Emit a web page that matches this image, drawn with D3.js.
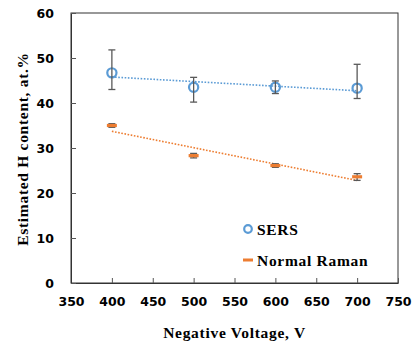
<!DOCTYPE html>
<html>
<head>
<meta charset="utf-8">
<script src="https://cdn.jsdelivr.net/npm/d3@7"></script>
<style>
  html, body { margin: 0; padding: 0; background: #fff; }
  svg { display: block; }
</style>
</head>
<body>
<svg id="chart" width="417" height="347"></svg>
<script>
// Applied negative bias voltage (V)
const voltages = [400, 500, 600, 700];

// SERS estimate of H content (at.%) with error bar limits
const sersValues = [46.7, 43.5, 43.5, 43.3];
const sersLow    = [43.0, 40.2, 42.1, 41.0];
const sersHigh   = [51.8, 45.7, 44.9, 48.6];

// Normal Raman estimate of H content (at.%) with error bar limits
const ramanValues = [35.0, 28.3, 26.1, 23.6];
const ramanLow    = [34.6, 27.8, 25.7, 22.8];
const ramanHigh   = [35.4, 28.8, 26.5, 24.3];

const xTicks = [350, 400, 450, 500, 550, 600, 650, 700, 750];
const yTicks = [0, 10, 20, 30, 40, 50, 60];

const seriesNames = ["SERS", "Normal Raman"];
const colors = { sers: "#5B9BD5", raman: "#ED7D31", err: "#595959" };

const serif = "'Liberation Serif', 'Times New Roman', serif";
const sans = "'DejaVu Sans', Verdana, sans-serif";

const svg = d3.select("#chart");
const m = { left: 71, right: 19, top: 13, bottom: 64 };
const W = 417, H = 347;

const x = d3.scaleLinear().domain([350, 750]).range([m.left, W - m.right]);
const y = d3.scaleLinear().domain([0, 60]).range([H - m.bottom, m.top]);

// plot frame
svg.append("rect")
  .attr("x", x(350)).attr("y", y(60))
  .attr("width", x(750) - x(350)).attr("height", y(0) - y(60))
  .attr("fill", "none").attr("stroke", "#333").attr("stroke-width", 1);

// axes with inward ticks
const xAxis = svg.append("g").attr("transform", `translate(0,${y(0)})`)
  .call(d3.axisBottom(x).tickValues(xTicks).tickSizeInner(-5).tickSizeOuter(0).tickPadding(14));
const yAxis = svg.append("g").attr("transform", `translate(${x(350)},0)`)
  .call(d3.axisLeft(y).tickValues(yTicks).tickSizeInner(-5).tickSizeOuter(0).tickPadding(17));
[xAxis, yAxis].forEach(g => {
  g.select(".domain").attr("stroke", "#333");
  g.selectAll(".tick line").attr("stroke", "#555");
  g.selectAll(".tick text")
    .attr("font-family", sans).attr("font-weight", "bold")
    .attr("font-size", 12.5).attr("fill", "#000");
});

// least-squares trend line
function fit(xs, ys) {
  const mx = d3.mean(xs), my = d3.mean(ys);
  const b = d3.sum(xs, (v, i) => (v - mx) * (ys[i] - my)) / d3.sum(xs, v => (v - mx) ** 2);
  return v => my + b * (v - mx);
}

function trend(values, color) {
  const f = fit(voltages, values);
  const x0 = d3.min(voltages), x1 = d3.max(voltages);
  svg.append("line")
    .attr("x1", x(x0)).attr("y1", y(f(x0)))
    .attr("x2", x(x1)).attr("y2", y(f(x1)))
    .attr("stroke", color).attr("stroke-width", 1.6)
    .attr("stroke-dasharray", "1.6,1.6");
}
trend(sersValues, colors.sers);
trend(ramanValues, colors.raman);

// error bars
function errorBars(lo, hi) {
  const g = svg.append("g").attr("stroke", colors.err).attr("stroke-width", 1.3);
  voltages.forEach((v, i) => {
    const cx = x(v);
    g.append("line").attr("x1", cx).attr("x2", cx).attr("y1", y(lo[i])).attr("y2", y(hi[i]));
    g.append("line").attr("x1", cx - 3.5).attr("x2", cx + 3.5).attr("y1", y(lo[i])).attr("y2", y(lo[i]));
    g.append("line").attr("x1", cx - 3.5).attr("x2", cx + 3.5).attr("y1", y(hi[i])).attr("y2", y(hi[i]));
  });
}

// SERS circles, with their error bars drawn over them
svg.append("g").selectAll("circle").data(voltages).join("circle")
  .attr("cx", d => x(d)).attr("cy", (d, i) => y(sersValues[i]))
  .attr("r", 4.6).attr("fill", "none")
  .attr("stroke", colors.sers).attr("stroke-width", 2.2);
errorBars(sersLow, sersHigh);

// Normal Raman dashes sit on top of their short error bars
errorBars(ramanLow, ramanHigh);
svg.append("g").selectAll("rect").data(voltages).join("rect")
  .attr("x", d => x(d) - 5).attr("y", (d, i) => y(ramanValues[i]) - 1.6)
  .attr("width", 10).attr("height", 3.2)
  .attr("fill", colors.raman);

function titleText(sel) {
  return sel.attr("font-family", serif).attr("font-weight", "bold")
    .attr("font-size", 15.5).attr("letter-spacing", 0.7).attr("fill", "#000");
}

// legend
const lg = svg.append("g");
lg.append("circle").attr("cx", 248).attr("cy", 229).attr("r", 3.8)
  .attr("fill", "none").attr("stroke", colors.sers).attr("stroke-width", 2.2);
lg.append("text").attr("x", 257).attr("y", 235).text(seriesNames[0]).call(titleText);
lg.append("rect").attr("x", 243).attr("y", 258.5).attr("width", 10).attr("height", 3).attr("fill", colors.raman);
lg.append("text").attr("x", 257).attr("y", 266).text(seriesNames[1]).call(titleText);

// axis titles
svg.append("text").attr("text-anchor", "middle")
  .attr("x", (x(350) + x(750)) / 2).attr("y", 338).text("Negative Voltage, V").call(titleText);
svg.append("text").attr("text-anchor", "middle")
  .attr("transform", `translate(28,${(y(0) + y(60)) / 2 + 1}) rotate(-90)`)
  .text("Estimated H content, at.%").call(titleText);
</script>
</body>
</html>
